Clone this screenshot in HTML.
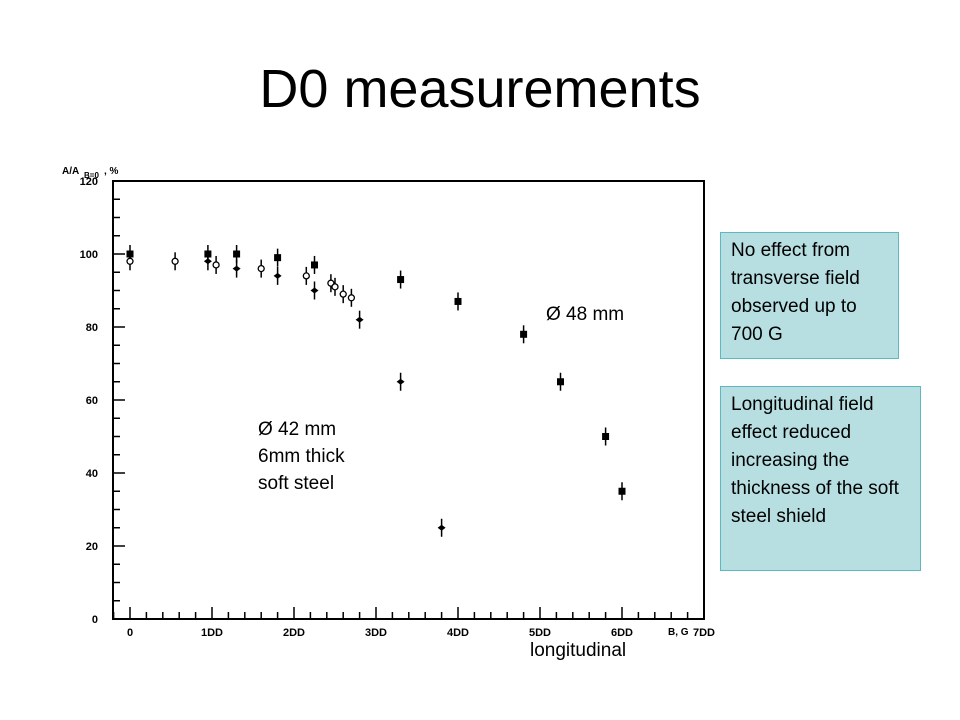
<!DOCTYPE html>
<html><head><meta charset="utf-8"><style>
body{margin:0;width:960px;height:720px;background:#fff;position:relative;overflow:hidden;font-family:"Liberation Sans",sans-serif}
.t{position:absolute;color:#000}
.box{position:absolute;background:#b7dfe2;border:1px solid #5fb8c0;font-size:19px;line-height:28px;padding:4px 10px;box-sizing:border-box}
</style></head><body>
<div class="t" style="left:0;width:960px;top:58px;text-align:center;font-size:54px">D0 measurements</div>
<svg width="960" height="720" style="position:absolute;left:0;top:0">
<g id="g"></g>
</svg>
<div class="t" style="left:546px;top:304px;font-size:19px">Ø 48 mm</div>
<div class="t" style="left:258px;top:416px;font-size:19px;line-height:27px">Ø 42 mm<br>6mm thick<br>soft steel</div>
<div class="t" style="left:530px;top:640px;font-size:19px">longitudinal</div>
<div class="box" style="left:720px;top:232px;width:179px;height:127px">No effect from transverse field observed up to 700 G</div>
<div class="box" style="left:720px;top:386px;width:201px;height:185px">Longitudinal field effect reduced increasing the thickness of the soft steel shield</div>
<script>
const xTicks=[0,100,200,300,400,500,600,700];
const xTickLabels=["0","1DD","2DD","3DD","4DD","5DD","6DD","7DD"];
const yTicks=[0,20,40,60,80,100,120];
const sqX=[0,95,130,180,225,330,400,480,525,580,600];
const sqY=[100,100,100,99,97,93,87,78,65,50,35];
const fillX=[95,130,180,225,280,330,380];
const fillY=[98,96,94,90,82,65,25];
const openX=[0,55,105,160,215,245,250,260,270];
const openY=[98,98,97,96,94,92,91,89,88];
const X=v=>130+v*0.82, Y=v=>619-v*3.65;
const g=document.getElementById('g'),NS='http://www.w3.org/2000/svg';
function mk(t,a){const e=document.createElementNS(NS,t);for(const k in a)e.setAttribute(k,a[k]);g.appendChild(e);return e;}
let f=mk('rect',{x:113,y:181,width:591,height:438,fill:'none',stroke:'#000','stroke-width':2});


for(let v=-20;v<=700;v+=20){const l=mk('line',{x1:X(v),x2:X(v),y1:619,y2:v%100==0?607:612,stroke:'#000','stroke-width':1.5});

}
for(let v=0;v<=120;v+=5){const l=mk('line',{x1:113,x2:v%20==0?125:120,y1:Y(v),y2:Y(v),stroke:'#000','stroke-width':1.5});

}
xTicks.forEach((v,i)=>{const t=mk('text',{x:X(v),y:636,'font-size':11,'font-weight':'bold','text-anchor':'middle'});t.textContent=xTickLabels[i];

});
yTicks.forEach(v=>{const t=mk('text',{x:98,y:Y(v)+4,'font-size':11,'font-weight':'bold','text-anchor':'end'});t.textContent=String(v).replace(/0/g,'0');

});
let yl=mk('text',{x:62,y:174,'font-size':10,'font-weight':'bold'});yl.textContent='A/A';


let ys=mk('text',{x:84,y:178,'font-size':8,'font-weight':'bold'});ys.textContent='B=0';


let yp=mk('text',{x:104,y:174,'font-size':10,'font-weight':'bold'});yp.textContent=', %';


let bg=mk('text',{x:668,y:635,'font-size':10,'font-weight':'bold'});bg.textContent='B, G';


function err(x,y){const l=mk('line',{x1:x,x2:x,y1:y-9,y2:y+9,stroke:'#000','stroke-width':1.5});

}
sqX.forEach((v,i)=>{const x=X(v),y=Y(sqY[i]);err(x,y);const r=mk('rect',{x:x-3.5,y:y-3.5,width:7,height:7,fill:'#000'});

});
fillX.forEach((v,i)=>{const x=X(v),y=Y(fillY[i]);err(x,y);const r=mk('polygon',{points:`${x-4},${y} ${x},${y-3} ${x+4},${y} ${x},${y+3}`,fill:'#000'});

});
openX.forEach((v,i)=>{const x=X(v),y=Y(openY[i]);err(x,y);const r=mk('circle',{cx:x,cy:y,r:3,fill:'#fff',stroke:'#000','stroke-width':1.3});

});
</script>
</body></html>
